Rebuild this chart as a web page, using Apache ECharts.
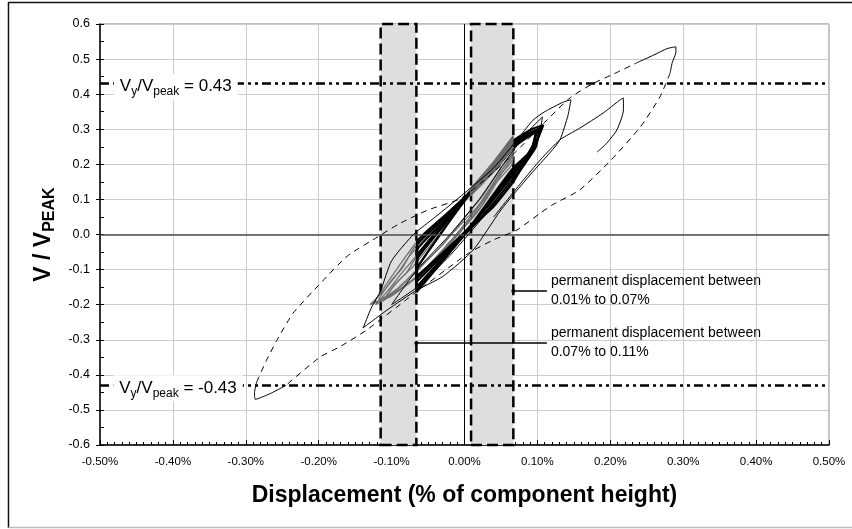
<!DOCTYPE html>
<html>
<head>
<meta charset="utf-8">
<script src="https://cdn.jsdelivr.net/npm/echarts@6/dist/echarts.min.js"></script>
<style>
  html, body { margin: 0; padding: 0; background: #fff; }
  #chart { width: 852px; height: 529px; }
</style>
</head>
<body>
<div id="chart"></div>
<script>
// axis ranges
const xRange = [-0.5, 0.5];
const yRange = [-0.6, 0.6];

// shaded bands of permanent displacement (x, % of height)
const bandLeft = [-0.115, -0.066];
const bandRight = [0.009, 0.067];

// yield lines
const yieldLevels = [0.43, -0.43];
const yieldLabelX = [-0.396, -0.393];

// leader lines of the two notes: [xStart, xEnd, y]
const noteLines = [[0.067, 0.113, -0.161], [-0.066, 0.113, -0.309]];
const noteTexts = ['permanent displacement between\n0.01% to 0.07%', 'permanent displacement between\n0.07% to 0.11%'];

// largest cycle, dashed part (null = gap at the solid tip)
const bigLoopDashed = [
  [-0.285, -0.42], [-0.272, -0.36], [-0.257, -0.30], [-0.235, -0.224], [-0.198, -0.14], [-0.161, -0.062],
  [-0.12, -0.008], [-0.09, 0.03], [-0.05, 0.07], [-0.006, 0.102], [0.03, 0.16], [0.07, 0.235],
  [0.11, 0.32], [0.145, 0.39], [0.176, 0.43], [0.205, 0.458], [0.237, 0.49],
  null,
  [0.282, 0.46], [0.268, 0.392], [0.241, 0.306], [0.2, 0.21], [0.158, 0.127], [0.121, 0.085],
  [0.104, 0.061], [0.072, 0.013], [0.039, -0.016], [0.008, -0.05], [-0.006, -0.07], [-0.07, -0.17],
  [-0.134, -0.272], [-0.171, -0.32], [-0.198, -0.349], [-0.245, -0.43]
];
const bigTipPos = [[0.237, 0.49], [0.26, 0.512], [0.278, 0.53], [0.29, 0.535], [0.29, 0.52], [0.285, 0.49], [0.282, 0.46]];
const bigTipNeg = [[-0.245, -0.43], [-0.265, -0.452], [-0.287, -0.47], [-0.288, -0.45], [-0.285, -0.42]];

// thin solid cycles
const thinLoopA = [
  [0.04, 0.05], [0.077, 0.146], [0.105, 0.215], [0.131, 0.27], [0.158, 0.303], [0.19, 0.346],
  [0.213, 0.383], [0.218, 0.389], [0.218, 0.355], [0.209, 0.298], [0.195, 0.26], [0.182, 0.235]
];
const thinLoopB = [
  [-0.139, -0.266], [-0.128, -0.21], [-0.115, -0.16], [-0.1, -0.075], [-0.07, 0.0], [-0.04, 0.05],
  [0.0, 0.118], [0.04, 0.19], [0.076, 0.28], [0.094, 0.326], [0.11, 0.35], [0.135, 0.377],
  [0.146, 0.384], [0.142, 0.34], [0.131, 0.27], [0.118, 0.235], [0.09, 0.17], [0.05, 0.07],
  [0.012, -0.044], [-0.03, -0.12], [-0.065, -0.158], [-0.106, -0.215], [-0.139, -0.266]
];
const thinLoopC = [
  [-0.1, -0.2], [-0.065, -0.1], [-0.02, 0.0], [0.02, 0.1], [0.06, 0.22], [0.09, 0.3],
  [0.107, 0.335], [0.104, 0.3], [0.095, 0.24], [0.07, 0.16], [0.03, 0.06], [-0.02, -0.06],
  [-0.065, -0.15], [-0.1, -0.2]
];

// heavy black cycles (fan from the left band edge, pinch at the right band edge)
const blackLoop1 = [[-0.066, -0.158], [-0.065, -0.09], [-0.065, -0.02], [-0.03, 0.048], [0.008, 0.121], [0.04, 0.19], [0.067, 0.262], [0.09, 0.29], [0.106, 0.306], [0.098, 0.262], [0.085, 0.215], [0.067, 0.17], [0.04, 0.1], [0.008, 0.022], [-0.03, -0.072], [-0.066, -0.158]];
const blackLoop2 = [[-0.066, -0.15], [-0.065, -0.1], [-0.065, -0.045], [-0.03, 0.034], [0.008, 0.12], [0.04, 0.185], [0.067, 0.255], [0.085, 0.278], [0.1, 0.295], [0.094, 0.255], [0.08, 0.205], [0.067, 0.178], [0.04, 0.105], [0.008, 0.02], [-0.03, -0.068], [-0.066, -0.15]];
const blackLoop3 = [[-0.066, -0.135], [-0.065, -0.07], [-0.03, 0.022], [0.008, 0.118], [0.04, 0.18], [0.067, 0.248], [0.088, 0.28], [0.103, 0.3], [0.098, 0.25], [0.082, 0.2], [0.067, 0.16], [0.04, 0.09], [0.008, 0.016], [-0.03, -0.061], [-0.066, -0.135]];
const blackLoop4 = [[-0.066, -0.125], [-0.065, -0.095], [-0.03, 0.01], [0.008, 0.119], [0.04, 0.195], [0.067, 0.268], [0.092, 0.3], [0.108, 0.312], [0.102, 0.28], [0.09, 0.235], [0.067, 0.19], [0.04, 0.115], [0.008, 0.024], [-0.03, -0.055], [-0.066, -0.125]];
const blackLoop5 = [[-0.066, -0.165], [-0.065, -0.08], [-0.065, -0.03], [-0.03, 0.042], [0.008, 0.122], [0.04, 0.2], [0.067, 0.258], [0.09, 0.284], [0.098, 0.292], [0.092, 0.24], [0.078, 0.19], [0.067, 0.15], [0.04, 0.08], [0.008, 0.018], [-0.03, -0.076], [-0.066, -0.165]];
const blackLoop6 = [[-0.066, -0.12], [-0.065, -0.06], [-0.03, 0.028], [0.008, 0.12], [0.04, 0.188], [0.067, 0.265], [0.095, 0.295], [0.104, 0.302], [0.1, 0.27], [0.087, 0.225], [0.067, 0.185], [0.04, 0.11], [0.008, 0.022], [-0.03, -0.053], [-0.066, -0.12]];

// grey cycles
const greyLoop1 = [[-0.125, -0.195], [-0.11, -0.15], [-0.09, -0.09], [-0.065, -0.02], [-0.03, 0.05], [0.008, 0.115], [0.04, 0.19], [0.067, 0.265], [0.066, 0.225], [0.05, 0.17], [0.03, 0.1], [0.008, 0.04], [-0.03, -0.05], [-0.065, -0.12], [-0.1, -0.17], [-0.125, -0.195]];
const greyLoop2 = [[-0.118, -0.185], [-0.1, -0.13], [-0.085, -0.095], [-0.07, -0.04], [-0.04, 0.03], [0.008, 0.122], [0.04, 0.2], [0.067, 0.275], [0.067, 0.235], [0.05, 0.18], [0.02, 0.085], [0.0, 0.03], [-0.035, -0.06], [-0.07, -0.13], [-0.1, -0.17], [-0.118, -0.185]];
const greyLoop3 = [[-0.13, -0.2], [-0.115, -0.17], [-0.095, -0.12], [-0.075, -0.06], [-0.04, 0.02], [0.008, 0.11], [0.04, 0.18], [0.067, 0.25], [0.065, 0.2], [0.04, 0.14], [0.01, 0.05], [-0.02, -0.02], [-0.06, -0.11], [-0.1, -0.175], [-0.13, -0.2]];
const greyLoop4 = [[-0.108, -0.178], [-0.095, -0.14], [-0.08, -0.11], [-0.065, -0.06], [-0.03, 0.03], [0.008, 0.128], [0.04, 0.205], [0.067, 0.28], [0.068, 0.245], [0.05, 0.19], [0.025, 0.11], [0.005, 0.06], [-0.03, -0.03], [-0.065, -0.1], [-0.09, -0.15], [-0.108, -0.178]];
const greyLoop5 = [[-0.122, -0.2], [-0.105, -0.16], [-0.09, -0.12], [-0.07, -0.07], [-0.035, 0.02], [0.008, 0.125], [0.04, 0.198], [0.067, 0.27], [0.066, 0.215], [0.045, 0.16], [0.02, 0.07], [-0.01, 0.0], [-0.05, -0.09], [-0.09, -0.16], [-0.122, -0.2]];
const greyLoop6 = [[-0.112, -0.19], [-0.1, -0.155], [-0.085, -0.12], [-0.07, -0.09], [-0.035, 0.0], [0.008, 0.113], [0.04, 0.185], [0.067, 0.258], [0.066, 0.23], [0.048, 0.175], [0.025, 0.095], [0.0, 0.04], [-0.04, -0.05], [-0.08, -0.135], [-0.112, -0.19]];

// grey strands lying on top inside the right band (dark hatched streak)
const greyStreak = [
  [0.008, 0.111], [0.04, 0.18], [0.067, 0.25], null,
  [0.008, 0.116], [0.04, 0.188], [0.067, 0.258], null,
  [0.008, 0.12], [0.04, 0.194], [0.067, 0.265], null,
  [0.008, 0.124], [0.04, 0.2], [0.067, 0.272], null,
  [0.008, 0.128], [0.04, 0.206], [0.067, 0.279]
];

const font = 'Liberation Sans, Arial, sans-serif';

function curve(name, data, color, width, type, z, smooth) {
  return {
    name: name, type: 'line', data: data, z: z,
    symbol: 'none', smooth: smooth, connectNulls: false, silent: true,
    lineStyle: { color: color, width: width, type: type }
  };
}

let chart = echarts.init(document.getElementById('chart'));

let option = {
  animation: false,
  backgroundColor: '#fff',
  textStyle: { fontFamily: font },
  grid: {
    left: 100, right: 23, top: 24, bottom: 84,
    containLabel: false, outerBoundsMode: 'none',
    show: true, borderColor: '#7f7f7f', borderWidth: 1
  },
  xAxis: [
    {
      type: 'value', min: xRange[0], max: xRange[1], interval: 0.1,
      axisLine: { onZero: false, lineStyle: { color: '#000', width: 1.5 } },
      axisTick: { inside: true, length: 5, lineStyle: { color: '#000' } },
      axisLabel: {
        fontSize: 11.5, color: '#000', margin: 11,
        formatter: v => (Math.abs(v) < 1e-9 ? 0 : v).toFixed(2) + '%'
      },
      splitLine: { lineStyle: { color: '#cccccc', width: 1 } },
      name: 'Displacement (% of component height)',
      nameLocation: 'middle', nameGap: 39,
      nameTextStyle: { fontSize: 23, fontWeight: 'bold', color: '#000' }
    },
    {
      type: 'value', min: xRange[0], max: xRange[1], interval: 0.01, position: 'bottom',
      axisLine: { show: false, onZero: false },
      axisTick: { inside: true, length: 3, lineStyle: { color: '#000' } },
      axisLabel: { show: false }, splitLine: { show: false }
    }
  ],
  yAxis: [
    {
      type: 'value', min: yRange[0], max: yRange[1], interval: 0.1,
      axisLine: { onZero: false, lineStyle: { color: '#000', width: 1.5 } },
      axisTick: { inside: false, length: 4, lineStyle: { color: '#000' } },
      axisLabel: { fontSize: 12.5, color: '#000', margin: 10, formatter: v => (Math.abs(v) < 1e-9 ? 0 : v).toFixed(1) },
      splitLine: { lineStyle: { color: '#cccccc', width: 1 } },
      name: 'V / V{s|PEAK}',
      nameLocation: 'middle', nameRotate: 90, nameGap: 41,
      nameTextStyle: {
        fontSize: 23, fontWeight: 'bold', color: '#000', lineHeight: 28,
        rich: { s: { fontSize: 16, fontWeight: 'bold', color: '#000', lineHeight: 16, verticalAlign: 'bottom', fontFamily: font } }
      }
    },
    {
      type: 'value', min: yRange[0], max: yRange[1], interval: 0.05, position: 'left',
      axisLine: { show: false, onZero: false },
      axisTick: { inside: true, length: 4, lineStyle: { color: '#000' } },
      axisLabel: { show: false }, splitLine: { show: false }
    }
  ],
  graphic: [
    { type: 'polyline', shape: { points: [[8.5, 528], [8.5, 2.5], [852, 2.5]] }, style: { stroke: '#111', lineWidth: 1.5, fill: null }, silent: true },
    { type: 'line', shape: { x1: 8.5, y1: 527.5, x2: 852, y2: 527.5 }, style: { stroke: '#bdbdbd', lineWidth: 1.5 }, silent: true }
  ],
  series: [
    {
      name: 'bands', type: 'line', data: [], z: 1, silent: true,
      markArea: {
        silent: true,
        itemStyle: { color: '#dedede', borderColor: '#000', borderWidth: 2.5, borderType: [11, 5] },
        data: [
          [{ xAxis: bandLeft[0] }, { xAxis: bandLeft[1] }],
          [{ xAxis: bandRight[0] }, { xAxis: bandRight[1] }]
        ]
      }
    },
    {
      name: 'zero', type: 'line', data: [], z: 2, silent: true,
      markLine: {
        silent: true, symbol: 'none', label: { show: false },
        data: [
          { yAxis: 0, lineStyle: { color: '#4d4d4d', width: 1.5, type: 'solid' } },
          { xAxis: 0, lineStyle: { color: '#000', width: 1, type: 'solid' } }
        ]
      }
    },
    curve('grey1', greyLoop1, '#707070', 1.2, 'solid', 3, 0.2),
    curve('grey2', greyLoop2, '#707070', 1.2, 'solid', 3, 0.2),
    curve('grey3', greyLoop3, '#707070', 1.2, 'solid', 3, 0.2),
    curve('grey4', greyLoop4, '#707070', 1.2, 'solid', 3, 0.2),
    curve('grey5', greyLoop5, '#707070', 1.2, 'solid', 3, 0.2),
    curve('grey6', greyLoop6, '#707070', 1.2, 'solid', 3, 0.2),
    curve('black1', blackLoop1, '#000', 2.2, 'solid', 4, 0.1),
    curve('black2', blackLoop2, '#000', 2.2, 'solid', 4, 0.1),
    curve('black3', blackLoop3, '#000', 2.2, 'solid', 4, 0.1),
    curve('black4', blackLoop4, '#000', 2.2, 'solid', 4, 0.1),
    curve('black5', blackLoop5, '#000', 2.2, 'solid', 4, 0.1),
    curve('black6', blackLoop6, '#000', 2.2, 'solid', 4, 0.1),
    curve('greyStreak', greyStreak, '#6a6a6a', 2, 'solid', 5, 0),
    curve('thinA', thinLoopA, '#000', 1, 'solid', 5, 0.2),
    curve('thinB', thinLoopB, '#000', 1, 'solid', 5, 0.2),
    curve('thinC', thinLoopC, '#000', 1, 'solid', 5, 0.2),
    curve('bigDashed', bigLoopDashed, '#000', 1, [6, 5], 5, 0.2),
    curve('bigTipPos', bigTipPos, '#000', 1, 'solid', 5, 0.2),
    curve('bigTipNeg', bigTipNeg, '#000', 1, 'solid', 5, 0.2),
    {
      name: 'yield', type: 'line', data: [], z: 6, silent: true,
      markLine: {
        silent: true, symbol: 'none', label: { show: false },
        lineStyle: { color: '#000', width: 2.5, type: [9, 4, 3, 4, 3, 4] },
        data: yieldLevels.map(v => ({ yAxis: v }))
      }
    },
    {
      name: 'notes', type: 'line', data: [], z: 6, silent: true,
      markLine: {
        silent: true, symbol: ['circle', 'none'], symbolSize: 4,
        lineStyle: { color: '#000', width: 1.5, type: 'solid' },
        data: noteLines.map((l, i) => [
          {
            coord: [l[0], l[2]],
            label: {
              show: true, position: 'end', distance: 4, formatter: noteTexts[i],
              fontSize: 14, lineHeight: 19, color: '#000', padding: [6, 0, 0, 0], fontFamily: font
            }
          },
          { coord: [l[1], l[2]] }
        ])
      }
    },
    {
      name: 'yieldLabels', type: 'line', data: [], z: 7, silent: true,
      markPoint: {
        silent: true, symbol: 'rect', symbolSize: 0,
        data: yieldLevels.map((v, i) => ({
          coord: [yieldLabelX[i], v],
          label: {
            show: true, position: 'inside', offset: [0, 3],
            formatter: 'V{s|y}/V{s|peak} = ' + v.toFixed(2),
            fontSize: 17, lineHeight: 22, color: '#000', fontFamily: font,
            backgroundColor: '#fff', padding: [2, 6, 2, 6],
            rich: { s: { fontSize: 12, lineHeight: 12, verticalAlign: 'bottom', color: '#000', fontFamily: font } }
          }
        }))
      }
    }
  ]
};

chart.setOption(option);
</script>
</body>
</html>
